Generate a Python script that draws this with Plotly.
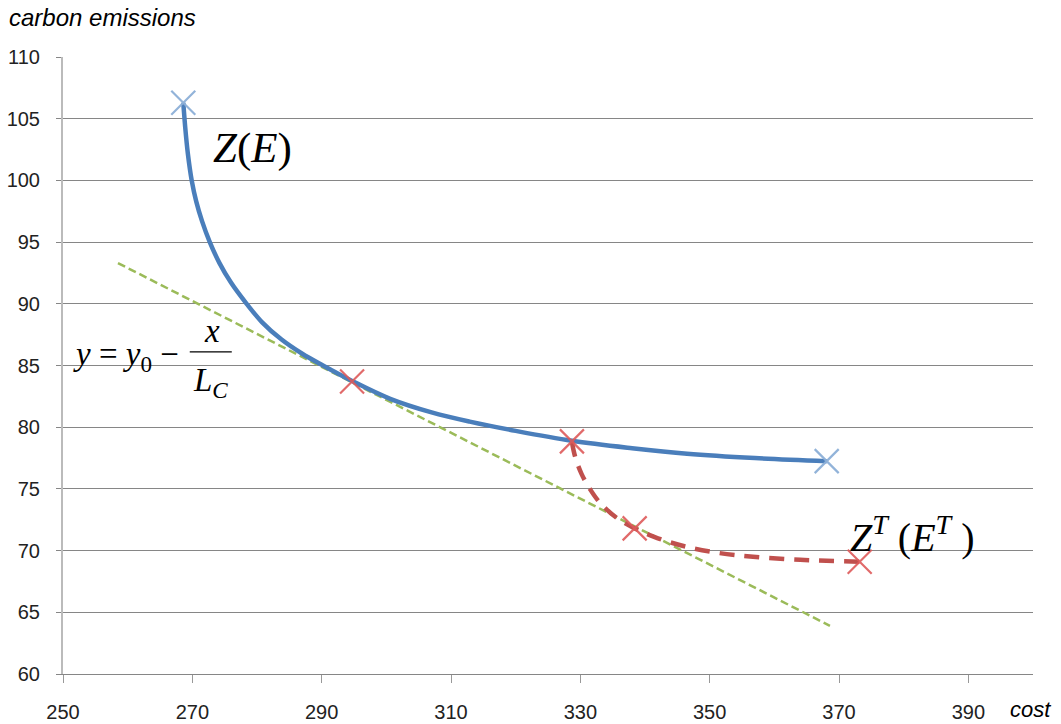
import plotly.graph_objects as go

# Z(E) efficient frontier (cost, carbon emissions)
ze_cost = [268.6, 268.9, 269.3, 269.9, 270.6, 271.5, 272.7, 274.2, 276.0, 278.4, 280.8, 283.8,
           287.0, 290.2, 294.7, 300.6, 307.0, 312.9, 320.0, 328.7, 338.0, 346.5, 357.0, 368.1]
ze_emis = [106.3, 104.3, 102.2, 100.0, 98.3, 96.7, 95.0, 93.3, 91.7, 90.0, 88.5, 87.1,
           85.95, 85.0, 83.75, 82.3, 81.2, 80.45, 79.7, 78.9, 78.3, 77.85, 77.5, 77.25]

# Z^T(E^T) frontier
zt_cost = [328.7, 329.2, 330.2, 331.6, 333.0, 335.5, 338.4, 342.0, 346.5, 351.5, 356.7, 364.0, 373.2]
zt_emis = [78.8, 77.6, 76.2, 74.9, 73.9, 72.7, 71.8, 71.0, 70.3, 69.8, 69.5, 69.25, 69.1]

# tangent line y = y0 - x / Lc
line_cost = [258.5, 368.6]
line_emis = [93.3, 63.9]

# marked points
blue_pts_cost = [268.6, 368.1]
blue_pts_emis = [106.3, 77.25]
red_pts_cost = [294.7, 328.7, 338.4, 373.2]
red_pts_emis = [83.7, 78.85, 71.8, 69.1]

x_ticks = [250, 270, 290, 310, 330, 350, 370, 390]

SERIF = "Liberation Serif, Times New Roman, serif"
SANS = "Liberation Sans, Arial, sans-serif"

fig = go.Figure()
fig.add_trace(go.Scatter(x=line_cost, y=line_emis, mode="lines",
                         line=dict(color="#9BBB59", width=2.5, dash="8px,4px")))
fig.add_trace(go.Scatter(x=ze_cost, y=ze_emis, mode="lines",
                         line=dict(color="#4A7EBB", width=4.5, shape="spline", smoothing=1.0)))
fig.add_trace(go.Scatter(x=zt_cost, y=zt_emis, mode="lines",
                         line=dict(color="#C0504D", width=4.5, dash="15px,10px",
                                   shape="spline", smoothing=1.0)))
fig.add_trace(go.Scatter(x=blue_pts_cost, y=blue_pts_emis, mode="markers",
                         marker=dict(symbol="x-thin", size=24,
                                     line=dict(color="rgba(140,175,215,0.95)", width=2.2))))
fig.add_trace(go.Scatter(x=red_pts_cost, y=red_pts_emis, mode="markers",
                         marker=dict(symbol="x-thin", size=24,
                                     line=dict(color="rgba(222,90,90,0.9)", width=2.2))))

annos = [
    dict(x=279.3, y=102.6, text="<i>Z</i>(<i>E</i>)", font=dict(family=SERIF, size=43, color="black")),
    dict(x=381.3, y=71.3, text="<i>Z</i><sup><i>T</i></sup> (<i>E</i><sup><i>T</i></sup> )",
         font=dict(family=SERIF, size=40, color="black")),
    dict(x=251.3, y=85.7, text="<i>y</i> = <i>y</i><sub>0</sub> −", xanchor="left",
         font=dict(family=SERIF, size=33, color="black")),
    dict(x=273.0, y=87.8, text="<i>x</i>", font=dict(family=SERIF, size=33, color="black")),
    dict(x=272.8, y=83.6, text="<i>L</i><sub><i>C</i></sub>", font=dict(family=SERIF, size=33, color="black")),
    dict(x=0, y=1, xref="paper", yref="paper", xshift=-56, yshift=55, xanchor="left", yanchor="top",
         text="<i>carbon emissions</i>", font=dict(family=SANS, size=24, color="black")),
    dict(x=1, y=0, xref="paper", yref="paper", xshift=-25, yshift=-35, xanchor="left", yanchor="middle",
         text="<i>cost</i>", font=dict(family=SANS, size=22, color="black")),
]
for a in annos:
    a.setdefault("showarrow", False)
    a.setdefault("xanchor", "center")
    a.setdefault("yanchor", "middle")
    fig.add_annotation(**a)

fig.add_shape(type="line", x0=269.6, x1=276.1, y0=86.1, y1=86.1,
              line=dict(color="black", width=1.3))

fig.update_layout(
    width=1061, height=724,
    margin=dict(l=63, r=28, t=57, b=50, autoexpand=False),
    plot_bgcolor="white", paper_bgcolor="white",
    showlegend=False,
    xaxis=dict(range=[250, 400], tickvals=x_ticks, showgrid=False, zeroline=False,
               automargin=False,
               showline=True, linecolor="#868686", linewidth=1,
               ticks="outside", ticklen=8, tickcolor="#999999", tickwidth=1,
               ticklabelstandoff=12,
               tickfont=dict(family=SANS, size=20, color="#222222")),
    yaxis=dict(range=[60, 110], dtick=5, showgrid=True, gridcolor="#868686", gridwidth=1,
               automargin=False,
               zeroline=False, showline=True, linecolor="#BBBBBB", linewidth=2,
               ticks="outside", ticklen=5, tickcolor="#868686", tickwidth=1,
               ticklabelstandoff=12,
               tickfont=dict(family=SANS, size=20, color="#222222")),
)

fig.write_html("out.html")
